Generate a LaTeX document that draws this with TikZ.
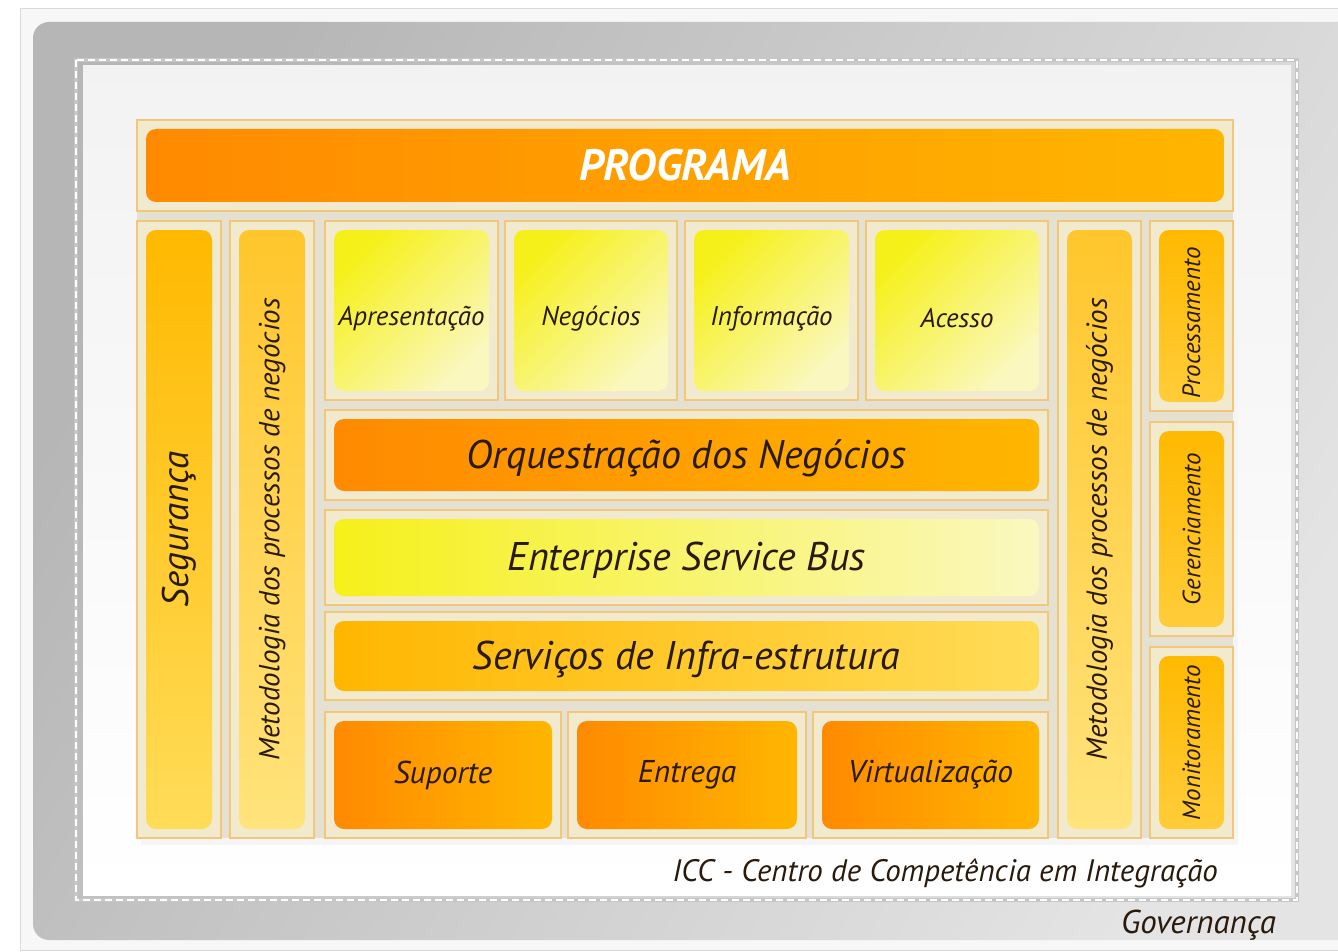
\documentclass[tikz,border=0pt]{standalone}
\usepackage{fontspec}
\setmainfont{PT Sans}
\usetikzlibrary{positioning,calc}

\definecolor{laranja}{HTML}{FF8A00}
\definecolor{ambar}{HTML}{FFB600}
\definecolor{ouro}{HTML}{FFB900}
\definecolor{ourocl}{HTML}{FFDC58}
\definecolor{palha}{HTML}{FFC62C}
\definecolor{palhacl}{HTML}{FFE37C}
\definecolor{limao}{HTML}{F6F01A}
\definecolor{creme}{HTML}{FAF8C0}
\definecolor{moldcor}{HTML}{F2C878}
\definecolor{moldfundo}{HTML}{F1EACF}
\definecolor{fundo}{HTML}{E4E0D2}
\definecolor{cinzaA}{HTML}{B6B6B6}
\definecolor{cinzaB}{HTML}{E4E4E4}
\definecolor{texto}{HTML}{2A1A0C}

% caixa: nome, canto de cima, canto de baixo, cor, estilo do texto, texto
\newcommand{\caixa}[6]{%
\draw[moldura] (#2) rectangle (#3);
\path[miolo,#4] ([shift={(9,9)}]#2) rectangle ([shift={(-9,-9)}]#3);
\node[#5] (#1) at ($(#2)!.5!(#3)$) {#6};
}

\begin{document}
\begin{tikzpicture}[x=1pt,y=-1pt,
moldura/.style={draw=moldcor,fill=moldfundo,line width=1.2pt},
miolo/.style={rounded corners=10pt},
rotulo/.style={text=texto,inner sep=0pt,font=\fontsize{#1}{#1}\selectfont\itshape},
vert/.style={rotulo=#1,rotate=90},
quente/.style={left color=laranja,right color=ambar},
seg/.style={top color=ouro,bottom color=ourocl},
metod/.style={top color=palha,bottom color=palhacl},
camada/.style={top color=limao,bottom color=creme,shading angle=45},
barramento/.style={left color=limao,right color=creme},
infra/.style={left color=ambar,right color=ourocl},
gestao/.style={top color=ouro,bottom color=palha!70!ourocl}]
\useasboundingbox (0,0) rectangle (1338,952);
\clip (0,0) rectangle (1338,952);

% fundo cinza
\draw[gray!30,fill=gray!6] (20,8) rectangle (1360,950);
\shade[rounded corners=16pt,top color=cinzaA,bottom color=cinzaB,shading angle=60]
(33,22) rectangle (1370,940);
\draw[gray!45,line width=3.5pt] (76,60) rectangle (1297,900);
\draw[white,line width=1.8pt,dash pattern=on 7pt off 4pt] (76,60) rectangle (1297,900);
\shade[top color=gray!10,bottom color=white] (83,66) rectangle (1291,895);

% grade
\fill[black!4] (141,124) rectangle (1238,845);
\fill[fundo] (137,120) rectangle (1233,838);

\caixa{prog}{137,120}{1233,211}{quente}{rotulo=44,text=white,font=\fontsize{44}{44}\selectfont\bfseries\itshape}{PROGRAMA}
\caixa{seg}{137,221}{221,838}{seg}{vert=37}{Segurança}
\caixa{metE}{230,221}{314,838}{metod}{vert=29}{Metodologia dos processos de negócios}
\caixa{apres}{325,221}{498,400}{camada}{rotulo=27,yshift=-8pt}{Apresentação}
\caixa{neg}{505,221}{677,400}{camada}{rotulo=27,yshift=-8pt}{Negócios}
\caixa{info}{685,221}{858,400}{camada}{rotulo=27,yshift=-8pt}{Informação}
\caixa{acesso}{866,221}{1048,400}{camada}{rotulo=27,yshift=-8pt}{Acesso}
\caixa{orq}{325,410}{1048,500}{quente}{rotulo=40,yshift=-3pt}{Orquestração dos Negócios}
\caixa{esb}{325,510}{1048,605}{barramento}{rotulo=40,yshift=-3pt}{Enterprise Service Bus}
\caixa{infra}{325,612}{1048,700}{infra}{rotulo=40,yshift=-3pt}{Serviços de Infra-estrutura}
\caixa{sup}{325,712}{561,838}{quente}{rotulo=31.5}{Suporte}
\caixa{entr}{568,712}{806,838}{quente}{rotulo=31.5}{Entrega}
\caixa{virt}{813,712}{1048,838}{quente}{rotulo=31.5}{Virtualização}
\caixa{metD}{1058,221}{1141,838}{metod}{vert=29}{Metodologia dos processos de negócios}
\caixa{proc}{1150,221}{1233,411}{gestao}{yshift=-7pt,vert=25}{Processamento}
\caixa{ger}{1150,422}{1233,636}{gestao}{vert=25}{Gerenciamento}
\caixa{mon}{1150,647}{1233,838}{gestao}{vert=25}{Monitoramento}

\node[rotulo=31,anchor=east] (icc) at (1218,873) {ICC - Centro de Competência em Integração};
\node[rotulo=33,anchor=east] (gov) at (1276,925) {Governança};
\end{tikzpicture}
\end{document}
